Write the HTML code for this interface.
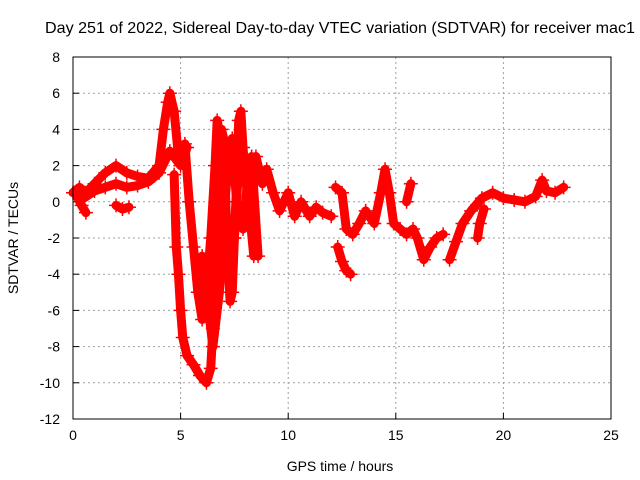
<!DOCTYPE html>
<html><head><meta charset="utf-8">
<style>
html,body{margin:0;padding:0;background:#fff;}
svg{display:block;font-family:"Liberation Sans",sans-serif;}
</style></head>
<body>
<svg id="chart" width="640" height="480" viewBox="0 0 640 480" xmlns="http://www.w3.org/2000/svg">
<text x="340" y="33" font-size="16" text-anchor="middle" fill="#000" textLength="590" lengthAdjust="spacingAndGlyphs">Day 251 of 2022, Sidereal Day-to-day VTEC variation (SDTVAR) for receiver mac1</text>
<text x="340" y="471" font-size="14" text-anchor="middle">GPS time / hours</text>
<text transform="translate(18,238) rotate(-90)" font-size="14" text-anchor="middle">SDTVAR / TECUs</text>
<g id="grid"></g>
<g id="ticks"></g>
<g id="series"></g>
<rect x="73" y="57" width="538" height="362" fill="none" stroke="#000" stroke-width="1"/>
</svg>
<script>
const xTicks = [0,5,10,15,20,25];
const yTicks = [8,6,4,2,0,-2,-4,-6,-8,-10,-12];
const trackMainT = [0,0.3,0.6,1,1.5,2,2.5,3,3.5,4,4.2,4.4,4.5,4.7,4.9];
const trackMainV = [0.5,0.8,0.5,1.0,1.6,2.0,1.6,1.4,1.3,2.0,4.0,5.5,6.0,5.0,2.5];
const trackLowT = [0.5,1,1.5,2,2.5,3,3.5,4,4.5,5,5.3];
const trackLowV = [0.2,0.6,0.8,1.0,0.8,0.9,1.1,1.6,2.8,2.0,3.0];
const trackDipT = [0.1,0.4,0.6];
const trackDipV = [0.5,-0.2,-0.6];
const trackDip2T = [2.0,2.3,2.6];
const trackDip2V = [-0.2,-0.4,-0.3];
const trackDiveT = [4.7,4.8,4.9,5.0,5.1,5.3,5.6,5.9,6.2,6.4,6.5,6.6,6.7,6.8,6.9,7.0,7.1,7.2,7.3,7.4,7.5,7.6,7.7,7.8,7.9,8.0,8.2,8.4];
const trackDiveV = [1.5,-2.5,-4.0,-6,-7.5,-8.5,-9.0,-9.6,-10.0,-9.2,-7,-4,-1,2,4.0,3.5,0,-3.5,-5.5,-5,-2,1,4.5,5.0,3.0,1.5,-0.5,-3.0];
const trackSecondT = [5.2,5.4,5.6,5.8,6.0,6.2,6.4,6.6,6.7,6.9,7.1,7.3,7.5,7.7];
const trackSecondV = [3.2,0,-2.5,-5,-6.5,-5,-2,2,4.5,3,-1,-4,-2,2];
const trackThirdT = [6.0,6.3,6.5,6.8,7.0,7.2,7.4,7.6,7.9,8.1,8.3,8.6];
const trackThirdV = [-3,-6,-8,-5,-1,2,3.5,0,-1.5,1,2.5,-3];
const trackMidT = [8.5,8.8,9,9.3,9.6,10,10.3,10.6,11,11.3,11.6,12];
const trackMidV = [2.5,1,1.8,0.5,-0.5,0.5,-0.8,0,-0.8,-0.3,-0.6,-0.8];
const trackDropT = [12.3,12.5,12.7,12.9];
const trackDropV = [-2.5,-3.3,-3.8,-4.0];
const trackLateT = [12.2,12.5,12.7,13,13.3,13.6,14,14.3,14.5,14.7,14.9,15.2,15.5,15.8,16,16.3,16.6,16.9,17.2];
const trackLateV = [0.8,0.5,-1.5,-1.8,-1.2,-0.5,-1.2,0.5,1.8,0.5,-1.2,-1.5,-1.8,-1.5,-2.0,-3.2,-2.5,-2.0,-1.8];
const trackBlipT = [15.5,15.7];
const trackBlipV = [0,1];
const trackEndT = [17.5,17.8,18.1,18.5,19,19.5,20,20.5,21,21.5,21.8,22,22.4,22.8];
const trackEndV = [-3.2,-2.2,-1.2,-0.5,0.2,0.5,0.2,0.1,0,0.3,1.2,0.6,0.5,0.8];
const trackEnd2T = [18.8,18.9,19.1];
const trackEnd2V = [-2,-1.2,-0.4];
const tracks = [[trackMainT,trackMainV],[trackLowT,trackLowV],[trackDipT,trackDipV],[trackDip2T,trackDip2V],[trackDiveT,trackDiveV],[trackSecondT,trackSecondV],[trackThirdT,trackThirdV],[trackMidT,trackMidV],[trackDropT,trackDropV],[trackLateT,trackLateV],[trackBlipT,trackBlipV],[trackEndT,trackEndV],[trackEnd2T,trackEnd2V]];

const NS="http://www.w3.org/2000/svg";
const X0=73,X1=611,Y0=419,Y1=57;
function xs(t){return X0+(t-0)/(25-0)*(X1-X0);}
function ys(v){return Y0-(v+12)/(8+12)*(Y0-Y1);}
function mk(tag,attrs,parent){const e=document.createElementNS(NS,tag);for(const k in attrs)e.setAttribute(k,attrs[k]);parent.appendChild(e);return e;}
const grid=document.getElementById('grid'),ticks=document.getElementById('ticks'),series=document.getElementById('series');
xTicks.forEach(t=>{
  const x=xs(t);
  if(t>0&&t<25){const g=mk('line',{x1:x,x2:x,y1:Y0,y2:Y1,stroke:'#a0a0a0','stroke-dasharray':'2,3'},grid);
  
  }
  const tk=mk('line',{x1:x,x2:x,y1:Y0,y2:Y0-6,stroke:'#000'},ticks);
  
  
  const tx=mk('text',{x:x,y:Y0+21,'font-size':14,'text-anchor':'middle'},ticks);tx.textContent=t;
  
  
});
yTicks.forEach(v=>{
  const y=ys(v);
  if(v>-12&&v<8){const g=mk('line',{x1:X0,x2:X1,y1:y,y2:y,stroke:'#a0a0a0','stroke-dasharray':'2,3'},grid);
  
  }
  const tk=mk('line',{x1:X0,x2:X0+6,y1:y,y2:y,stroke:'#000'},ticks);
  
  
  const tx=mk('text',{x:X0-13,y:y+5,'font-size':14,'text-anchor':'end'},ticks);tx.textContent=v;
  
  
});
tracks.forEach(([T,V])=>{
  const pts=T.map((t,i)=>xs(t)+','+ys(V[i])).join(' ');
  const pl=mk('polyline',{points:pts,fill:'none',stroke:'#ff0000','stroke-width':9,'stroke-linejoin':'round','stroke-linecap':'round'},series);
  
  
  T.forEach((t,i)=>{
    const x=xs(t),y=ys(V[i]);
    const p=mk('path',{d:`M${x-7},${y}H${x+7}M${x},${y-7}V${y+7}`,stroke:'#ff0000','stroke-width':1.5},series);
    
    
  });
});
</script>
</body></html>
